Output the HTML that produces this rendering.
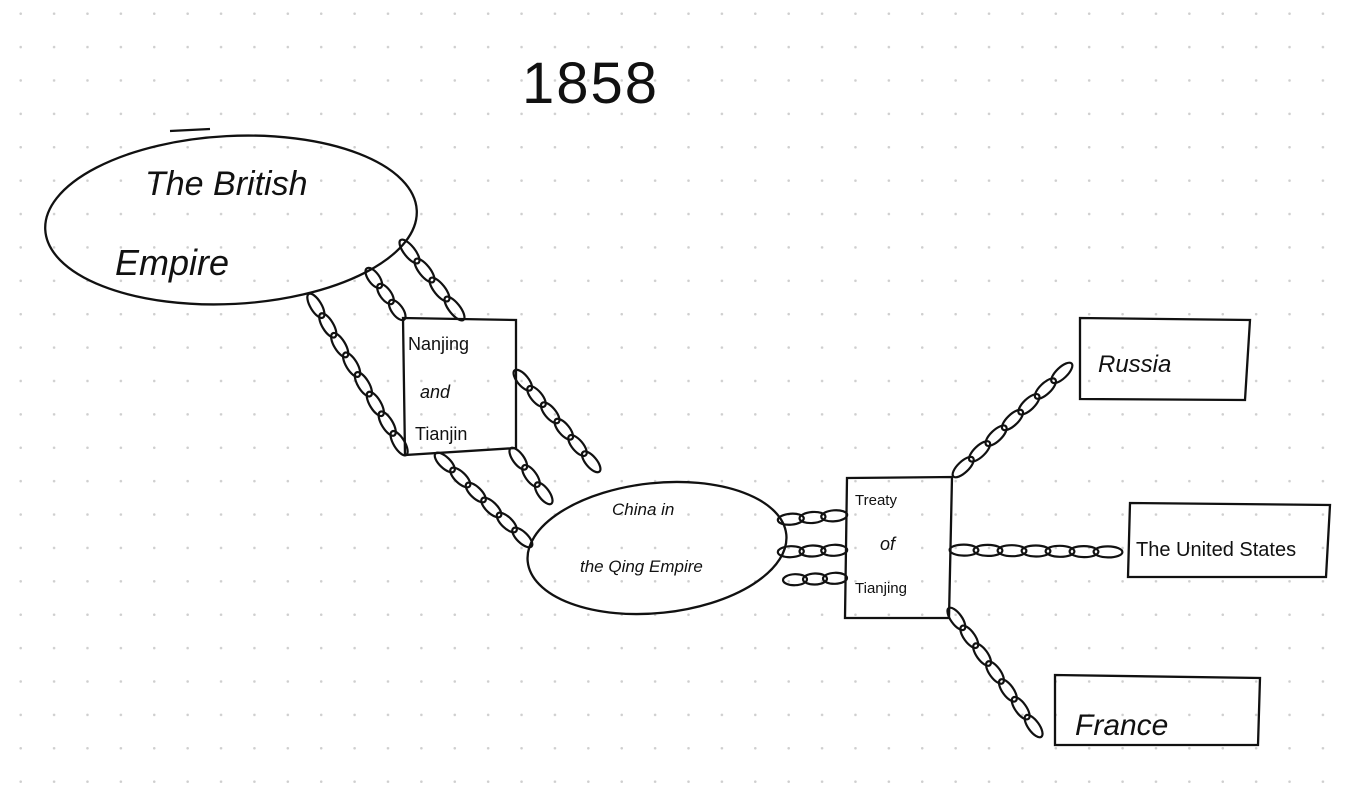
<!DOCTYPE html>
<html><head><meta charset="utf-8"><style>
html,body{margin:0;padding:0;width:1348px;height:812px;overflow:hidden;background:#fff;
background-image:radial-gradient(circle,#cfcfcf 1.1px,transparent 1.5px);background-size:33.4px 33.4px;background-position:4px -3px;}
svg{position:absolute;left:0;top:0}
text{font-family:"Liberation Sans",sans-serif;fill:#111}
.i{font-style:italic}
</style></head><body>
<svg id="s" width="1348" height="812" viewBox="0 0 1348 812" fill="none" stroke="#111" stroke-width="2.3">
<text x="522" y="103" font-size="58" stroke="none" style="font-weight:normal;letter-spacing:2px">1858</text>
<ellipse cx="231" cy="220" rx="186" ry="84" transform="rotate(-3 231 220)"/>
<path d="M170 131 L210 129"/>
<text class="i" x="145" y="195" font-size="34" stroke="none">The British</text>
<text class="i" x="115" y="275" font-size="36" stroke="none">Empire</text>
<path d="M403 318 L516 320 L516 448 L405 455 Z"/>
<text x="408" y="350" font-size="18" stroke="none">Nanjing</text>
<text class="i" x="420" y="398" font-size="18" stroke="none">and</text>
<text x="415" y="440" font-size="18" stroke="none">Tianjin</text>
<ellipse cx="657" cy="548" rx="130" ry="65" transform="rotate(-6 657 548)"/>
<text class="i" x="612" y="515" font-size="17" stroke="none">China in</text>
<text class="i" x="580" y="572" font-size="17" stroke="none">the Qing Empire</text>
<path d="M847 478 L952 477 L949 618 L845 618 Z"/>
<text x="855" y="505" font-size="15" stroke="none">Treaty</text>
<text class="i" x="880" y="550" font-size="18" stroke="none">of</text>
<text x="855" y="593" font-size="15" stroke="none">Tianjing</text>
<path d="M1080 318 L1250 320 L1245 400 L1080 399 Z"/>
<text class="i" x="1098" y="372" font-size="24" stroke="none">Russia</text>
<path d="M1130 503 L1330 505 L1326 577 L1128 577 Z"/>
<text x="1136" y="556" font-size="20" stroke="none">The United States</text>
<path d="M1055 675 L1260 678 L1258 745 L1055 745 Z"/>
<text class="i" x="1075" y="735" font-size="30" stroke="none">France</text>
<g id="c" stroke-width="2.2"></g>
</svg>
<script>
var ch=[[310,296,405,453],[368,270,403,318],[402,242,462,318],[516,372,598,470],[512,450,550,502],[437,455,530,545],[780,520,845,515],[780,552,845,550],[785,580,845,578],[955,475,1070,365],[952,550,1120,552],[950,610,1040,735]];
var g=document.getElementById('c'),h='';
ch.forEach(function(c){var dx=c[2]-c[0],dy=c[3]-c[1],L=Math.hypot(dx,dy),n=Math.max(3,Math.round(L/23)),a=Math.atan2(dy,dx)*180/Math.PI,step=L/n;
for(var i=0;i<n;i++){var t=(i+0.5)/n,x=c[0]+dx*t,y=c[1]+dy*t;
h+='<ellipse cx="'+x.toFixed(1)+'" cy="'+y.toFixed(1)+'" rx="'+(step*0.6).toFixed(1)+'" ry="5.5" transform="rotate('+a.toFixed(1)+' '+x.toFixed(1)+' '+y.toFixed(1)+')"/>';}});
g.innerHTML=h;
</script>
</body></html>
